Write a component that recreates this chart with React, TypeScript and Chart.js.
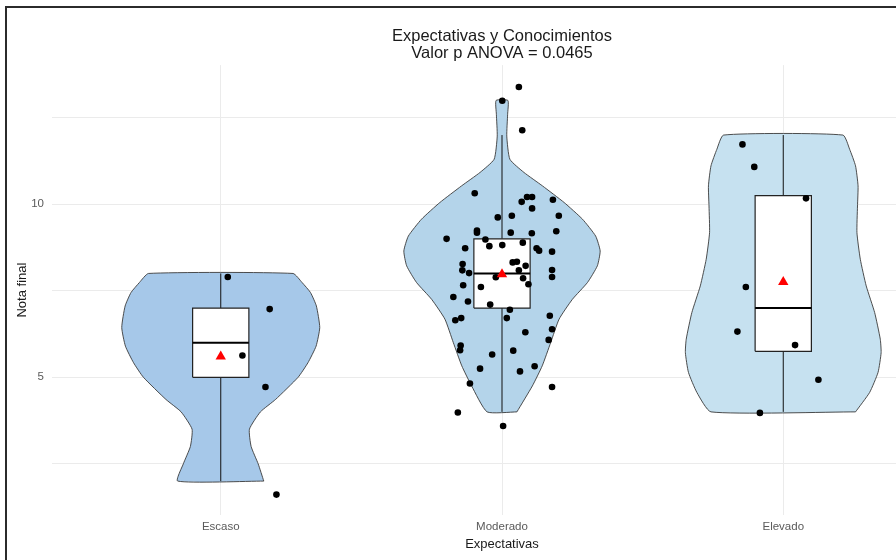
import React, { useEffect, useRef } from 'react';
import { Chart, registerables } from 'chart.js';

Chart.register(...registerables);

const FONT = "'Liberation Sans', Arial, sans-serif";

const titleLines = ['Expectativas y Conocimientos', 'Valor p ANOVA = 0.0465'];
const xAxisTitle = 'Expectativas';
const yAxisTitle = 'Nota final';
const categories = ['Escaso', 'Moderado', 'Elevado'];
const yTickValues = [2.5, 5, 7.5, 10, 12.5];
const yTickLabels = ['', '5', '', '10', ''];

// Box-plot statistics per category
const whiskerLow = [2, 4, 4];
const boxQ1 = [5, 7, 5.75];
const boxMedian = [6, 8, 7];
const boxQ3 = [7, 9, 10.25];
const whiskerHigh = [8, 12, 12];
const groupMeans = [5.6, 7.98, 7.75];
const boxHalfWidth = 0.1;

// Violin outlines: value and half-width (category units)
const escasoViolinY = [2.0, 2.5, 3.0, 3.5, 4.0, 4.36, 5.0, 5.42, 5.9, 6.44, 7.06, 7.45, 7.74, 8.0];
const escasoViolinW = [0.153, 0.133, 0.108, 0.102, 0.141, 0.195, 0.275, 0.31, 0.339, 0.352, 0.34, 0.319, 0.289, 0.257];
const moderadoViolinY = [4.0, 4.75, 5.33, 6.0, 6.68, 7.25, 7.74, 8.22, 8.65, 9.08, 9.57, 10.05, 10.53, 10.92, 11.3, 11.97, 12.6, 13.0];
const moderadoViolinW = [0.053, 0.108, 0.143, 0.173, 0.203, 0.25, 0.304, 0.339, 0.349, 0.333, 0.286, 0.221, 0.144, 0.078, 0.028, 0.017, 0.02, 0.021];
const elevadoViolinY = [4.0, 4.56, 5.14, 5.71, 6.1, 6.87, 7.64, 8.41, 9.18, 9.95, 10.53, 11.11, 11.59, 12.0];
const elevadoViolinW = [0.257, 0.307, 0.337, 0.348, 0.345, 0.325, 0.295, 0.274, 0.262, 0.264, 0.266, 0.257, 0.236, 0.212];
const violinColors = ['#a6c8e9', '#b4d4ea', '#c6e1f0'];

// Jittered observations (offset from category centre, value)
const escasoDx = [0.025, 0.174, 0.077, 0.159, 0.198];
const escasoY = [7.9, 6.97, 5.63, 4.72, 1.61];
const moderadoDx = [0.06, 0.001, 0.072, -0.097, 0.07, 0.089, 0.107, 0.181, 0.107, 0.202, -0.015, 0.035, -0.089, -0.089, 0.031, 0.106, 0.193, -0.197, -0.059, 0.074, -0.045, 0.001, -0.131, 0.123, 0.132, 0.178, -0.14, 0.038, 0.053, 0.084, -0.141, -0.117, 0.06, 0.178, 0.178, -0.022, 0.075, 0.094, -0.138, -0.075, -0.173, -0.121, -0.042, 0.028, 0.17, -0.145, -0.166, 0.017, 0.178, 0.083, 0.166, -0.147, -0.149, 0.04, -0.035, -0.078, 0.116, 0.064, -0.114, 0.178, -0.157, 0.004];
const moderadoY = [13.39, 12.99, 12.14, 10.32, 10.07, 10.21, 10.21, 10.13, 9.88, 9.67, 9.62, 9.67, 9.24, 9.18, 9.18, 9.16, 9.22, 9.0, 8.98, 8.89, 8.79, 8.82, 8.73, 8.73, 8.66, 8.63, 8.27, 8.32, 8.34, 8.22, 8.09, 8.01, 8.09, 8.1, 7.9, 7.89, 7.86, 7.69, 7.66, 7.61, 7.32, 7.19, 7.1, 6.95, 6.78, 6.71, 6.65, 6.71, 6.39, 6.3, 6.08, 5.92, 5.78, 5.77, 5.66, 5.25, 5.32, 5.17, 4.82, 4.72, 3.98, 3.59];
const elevadoDx = [-0.145, -0.103, 0.081, -0.133, -0.163, 0.042, 0.125, -0.083];
const elevadoY = [11.73, 11.08, 10.17, 7.61, 6.32, 5.93, 4.93, 3.97];

const violinYs = [escasoViolinY, moderadoViolinY, elevadoViolinY];
const violinWs = [escasoViolinW, moderadoViolinW, elevadoViolinW];
const pointDx = [escasoDx, moderadoDx, elevadoDx];
const pointY = [escasoY, moderadoY, elevadoY];

function violinPolygon(ci: number, ys: number[], ws: number[]) {
  const right = ys.map((y, i) => ({ x: ci + ws[i], y }));
  const left = ys.map((y, i) => ({ x: ci - ws[i], y })).reverse();
  return [...right, ...left, right[0]];
}

function buildDatasets() {
  const ds: any[] = [];
  categories.forEach((_, ci) => {
    ds.push({
      type: 'scatter',
      data: pointDx[ci].map((dx, i) => ({ x: ci + dx, y: pointY[ci][i] })),
      pointRadius: 3.3,
      pointBackgroundColor: '#000',
      pointBorderWidth: 0,
      order: 1,
    });
    ds.push({
      type: 'scatter',
      data: [{ x: ci, y: groupMeans[ci] }],
      pointStyle: 'triangle',
      pointRadius: 6,
      pointBackgroundColor: '#ff0000',
      pointBorderWidth: 0,
      order: 0,
    });
    ds.push({
      type: 'line',
      data: [
        { x: ci - boxHalfWidth, y: boxMedian[ci] },
        { x: ci + boxHalfWidth, y: boxMedian[ci] },
      ],
      borderColor: '#000',
      borderWidth: 2,
      pointRadius: 0,
      fill: false,
      order: 2,
    });
    ds.push({
      type: 'line',
      data: [
        { x: ci - boxHalfWidth, y: boxQ1[ci] },
        { x: ci + boxHalfWidth, y: boxQ1[ci] },
        { x: ci + boxHalfWidth, y: boxQ3[ci] },
        { x: ci - boxHalfWidth, y: boxQ3[ci] },
        { x: ci - boxHalfWidth, y: boxQ1[ci] },
      ],
      borderColor: '#222',
      borderWidth: 1.2,
      backgroundColor: '#ffffff',
      fill: 'shape',
      pointRadius: 0,
      tension: 0,
      order: 3,
    });
    ds.push({
      type: 'line',
      data: [
        { x: ci, y: whiskerLow[ci] },
        { x: ci, y: boxQ1[ci] },
      ],
      borderColor: '#111',
      borderWidth: 1,
      pointRadius: 0,
      fill: false,
      order: 4,
    });
    ds.push({
      type: 'line',
      data: [
        { x: ci, y: boxQ3[ci] },
        { x: ci, y: whiskerHigh[ci] },
      ],
      borderColor: '#111',
      borderWidth: 1,
      pointRadius: 0,
      fill: false,
      order: 4,
    });
    ds.push({
      type: 'line',
      data: violinPolygon(ci, violinYs[ci], violinWs[ci]),
      borderColor: '#3a3a3a',
      borderWidth: 0.9,
      backgroundColor: violinColors[ci],
      fill: 'shape',
      pointRadius: 0,
      tension: 0.17,
      order: 5,
    });
  });
  return ds;
}

export default function App() {
  const canvasRef = useRef<HTMLCanvasElement | null>(null);

  useEffect(() => {
    const canvas = canvasRef.current;
    if (!canvas) return;
    const chart = new Chart(canvas, {
      type: 'scatter',
      data: { datasets: buildDatasets() },
      options: {
        animation: false,
        responsive: false,
        devicePixelRatio: 1,
        layout: { padding: { left: 0, right: 52, top: 0, bottom: 0 } },
        plugins: {
          legend: { display: false },
          tooltip: { enabled: false },
          title: {
            display: true,
            fullSize: false,
            text: titleLines,
            color: '#1a1a1a',
            font: { family: FONT, size: 16.5, weight: 'normal', lineHeight: 1.05 },
            padding: { top: 27.5, bottom: 3 },
          },
        },
        scales: {
          x: {
            type: 'linear',
            min: -0.6,
            max: 2.6,
            afterBuildTicks: (s: any) => {
              s.ticks = categories.map((_, i) => ({ value: i }));
            },
            afterFit: (s: any) => {
              s.height = 45;
            },
            ticks: {
              autoSkip: false,
              maxRotation: 0,
              padding: 5,
              color: '#5a5a5a',
              font: { family: FONT, size: 11.5 },
              callback: (v: any) => categories[v as number] ?? '',
            },
            grid: { color: '#ebebeb', lineWidth: 1, drawTicks: false },
            border: { display: false },
            title: {
              display: true,
              text: xAxisTitle,
              color: '#1a1a1a',
              font: { family: FONT, size: 13 },
              padding: { top: 0, bottom: 8.2 },
            },
          },
          y: {
            type: 'linear',
            min: 1.02,
            max: 14.02,
            afterBuildTicks: (s: any) => {
              s.ticks = yTickValues.map((v) => ({ value: v }));
            },
            afterFit: (s: any) => {
              s.width = 52;
            },
            ticks: {
              padding: 8,
              color: '#5a5a5a',
              font: { family: FONT, size: 11.5 },
              callback: (v: any) => {
                const i = yTickValues.indexOf(v as number);
                return i >= 0 ? yTickLabels[i] : '';
              },
            },
            grid: { color: '#ebebeb', lineWidth: 1, drawTicks: false },
            border: { display: false },
            title: {
              display: true,
              text: yAxisTitle,
              color: '#1a1a1a',
              font: { family: FONT, size: 13 },
              padding: { top: 15, bottom: 0 },
            },
          },
        },
      } as any,
    });
    return () => chart.destroy();
  }, []);

  return (
    <div
      style={{
        position: 'fixed',
        left: 0,
        top: 0,
        width: 896,
        height: 560,
        overflow: 'hidden',
        background: '#fff',
      }}
    >
      <canvas
        ref={canvasRef}
        width={1004}
        height={560}
        style={{ position: 'absolute', left: 0, top: 0, width: 1004, height: 560 }}
      />
      <div
        style={{
          position: 'absolute',
          left: 5,
          top: 6,
          width: 1000,
          height: 1000,
          borderLeft: '2px solid #2b2b2b',
          borderTop: '2px solid #2b2b2b',
          pointerEvents: 'none',
        }}
      />
    </div>
  );
}
